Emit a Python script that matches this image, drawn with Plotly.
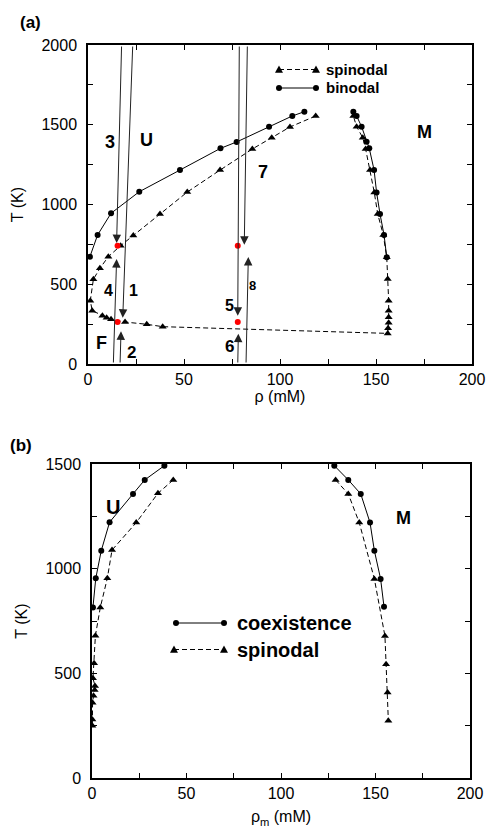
import plotly.graph_objects as go

# ---------------- Panel (a) data ----------------
spin_a_rho = [118.6, 105.2, 95.7, 85.6, 68.8, 51.7, 37.5, 23.6, 17.0, 10.6, 6.2, 2.8, 1.2, 2.2, 7.5, 9.7, 12.0, 19.3, 30.6, 38.9,
              156.1, 156.3, 156.6, 156.6, 156.6, 156.6, 156.1, 155.6, 153.8, 150.9, 149.1, 146.9, 144.6, 143.1, 139.9, 138.2]
spin_a_T = [1555, 1486, 1419, 1348, 1216, 1078, 940, 805, 742, 673, 600, 531, 397, 334, 303, 290, 280, 263, 249, 234,
            192, 224, 259, 293, 334, 397, 533, 669, 809, 940, 1076, 1216, 1348, 1419, 1488, 1555]

bino_a_left_rho = [1.0, 5.0, 12.0, 26.7, 47.9, 69.0, 77.4, 94.3, 106.4, 112.7]
bino_a_left_T = [673, 809, 945, 1080, 1216, 1352, 1392, 1488, 1555, 1582]
bino_a_right_rho = [138.2, 139.9, 142.5, 145.1, 146.5, 149.0, 150.3, 152.1, 154.2, 155.6]
bino_a_right_T = [1582, 1555, 1488, 1394, 1352, 1216, 1076, 940, 809, 669]

red_rho = [15.4, 15.4, 78.0, 78.0]
red_T = [742, 263, 742, 263]

# arrows: tail and tip positions in data units
arrow_tail_rho = [17.5, 23.3, 13.2, 16.7, 78.8, 83.0, 78.0, 82.3]
arrow_tail_T = [2000, 2000, 0, 0, 2000, 2000, 0, 0]
arrow_tip_rho = [14.9, 18.1, 14.9, 17.2, 78.0, 81.4, 78.3, 83.5]
arrow_tip_T = [758, 290, 658, 205, 303, 748, 190, 671]

# ---------------- Panel (b) data ----------------
coex_b_left_rho = [38.3, 27.9, 21.7, 9.3, 4.9, 2.0, 0.5]
coex_b_left_T = [1492, 1424, 1357, 1222, 1086, 954, 815]
coex_b_right_rho = [128.2, 135.6, 142.2, 147.1, 149.4, 152.7, 154.5]
coex_b_right_T = [1492, 1424, 1357, 1220, 1086, 951, 818]

spin_b_left_rho = [43.0, 34.9, 23.4, 10.6, 8.1, 4.4, 1.8, 1.1, 0.5, 1.6, 1.4, 0.8, 0.3, 0.2, 0.2]
spin_b_left_T = [1424, 1360, 1220, 1089, 954, 815, 680, 548, 476, 440, 420, 393, 360, 280, 250]
spin_b_right_rho = [128.9, 135.6, 141.4, 149.4, 155.0, 155.6, 156.4, 156.8]
spin_b_right_T = [1424, 1357, 1220, 951, 678, 543, 408, 274]

# ---------------- ticks ----------------
x_tickvals = [0, 50, 100, 150, 200]
x_ticktext = ["0", "50", "100", "150", "200"]
ya_tickvals = [0, 500, 1000, 1500, 2000]
ya_ticktext = ["0", "500", "1000", "1500", "2000"]
yb_tickvals = [0, 500, 1000, 1500]
yb_ticktext = ["0", "500", "1000", "1500"]

legend_a_names = ["spinodal", "binodal"]
legend_b_names = ["coexistence", "spinodal"]

FONT = "Liberation Sans, Arial, sans-serif"
W, H = 488, 832


def px2paper_x(p):
    return p / W


def px2paper_y(p):
    return 1 - p / H


fig = go.Figure()

fig.add_trace(go.Scatter(
    x=spin_a_rho, y=spin_a_T, mode="lines+markers", name=legend_a_names[0],
    line=dict(color="black", width=1, dash="5px,3px"),
    marker=dict(symbol="triangle-up", size=7, color="black"),
    xaxis="x", yaxis="y", showlegend=False))
fig.add_trace(go.Scatter(
    x=bino_a_left_rho + [None] + bino_a_right_rho,
    y=bino_a_left_T + [None] + bino_a_right_T, mode="lines+markers", name=legend_a_names[1],
    line=dict(color="black", width=1),
    marker=dict(symbol="circle", size=6, color="black"),
    xaxis="x", yaxis="y", showlegend=False, connectgaps=False))
fig.add_trace(go.Scatter(
    x=red_rho, y=red_T, mode="markers", showlegend=False,
    marker=dict(symbol="circle", size=6, color="red"),
    xaxis="x", yaxis="y"))

fig.add_trace(go.Scatter(
    x=coex_b_left_rho + [None] + coex_b_right_rho,
    y=coex_b_left_T + [None] + coex_b_right_T, mode="lines+markers", name=legend_b_names[0],
    line=dict(color="black", width=1),
    marker=dict(symbol="circle", size=6, color="black"),
    xaxis="x2", yaxis="y2", showlegend=False, connectgaps=False))
fig.add_trace(go.Scatter(
    x=spin_b_left_rho + [None] + spin_b_right_rho,
    y=spin_b_left_T + [None] + spin_b_right_T, mode="lines+markers", name=legend_b_names[1],
    line=dict(color="black", width=1, dash="5px,3px"),
    marker=dict(symbol="triangle-up", size=7, color="black"),
    xaxis="x2", yaxis="y2", showlegend=False, connectgaps=False))

annotations = []
for tr, tT, pr, pT in zip(arrow_tail_rho, arrow_tail_T, arrow_tip_rho, arrow_tip_T):
    annotations.append(dict(x=pr, y=pT, ax=tr, ay=tT, xref="x", yref="y", axref="x", ayref="y",
                            text="", showarrow=True, arrowhead=2, arrowsize=1.7, arrowwidth=1,
                            arrowcolor="#222"))

labels_a = [("3", 11.5, 1394, 18), ("U", 30.5, 1404, 18), ("M", 175, 1457, 18), ("7", 91, 1205, 18),
            ("F", 6.8, 130, 18), ("1", 23.5, 460, 16), ("4", 10.5, 460, 16), ("2", 22.5, 75, 17),
            ("5", 73.5, 365, 16), ("6", 73.5, 110, 17), ("8", 85.5, 490, 13)]
for t, xx, yy, s in labels_a:
    annotations.append(dict(x=xx, y=yy, xref="x", yref="y", text="<b>%s</b>" % t, showarrow=False,
                            font=dict(family=FONT, size=s, color="black")))

labels_b = [("U", 11.3, 1296, 20), ("M", 164.7, 1241, 18)]
for t, xx, yy, s in labels_b:
    annotations.append(dict(x=xx, y=yy, xref="x2", yref="y2", text="<b>%s</b>" % t, showarrow=False,
                            font=dict(family=FONT, size=s, color="black")))

annotations.append(dict(x=px2paper_x(30), y=px2paper_y(22), xref="paper", yref="paper", text="<b>(a)</b>",
                        xanchor="center", yanchor="middle",
                        showarrow=False, font=dict(family=FONT, size=17, color="black")))
annotations.append(dict(x=px2paper_x(21), y=px2paper_y(445), xref="paper", yref="paper", text="<b>(b)</b>",
                        xanchor="center", yanchor="middle",
                        showarrow=False, font=dict(family=FONT, size=17, color="black")))

# ---- hand-drawn legends (sample line with a marker at each end) ----
shapes = []


def tri_path(cx, cy, r=4.0):
    return "M %f %f L %f %f L %f %f Z" % (
        px2paper_x(cx), px2paper_y(cy - r),
        px2paper_x(cx - r), px2paper_y(cy + r * 0.8),
        px2paper_x(cx + r), px2paper_y(cy + r * 0.8))


def circ(cx, cy, r=3.0):
    return dict(type="circle", xref="paper", yref="paper",
                x0=px2paper_x(cx - r), x1=px2paper_x(cx + r),
                y0=px2paper_y(cy + r), y1=px2paper_y(cy - r),
                fillcolor="black", line=dict(color="black", width=0))


def legend_entry(x0, x1, y, dashed, marker, text, tx, size):
    shapes.append(dict(type="line", xref="paper", yref="paper",
                       x0=px2paper_x(x0), x1=px2paper_x(x1), y0=px2paper_y(y), y1=px2paper_y(y),
                       line=dict(color="black", width=1, dash="5px,3px" if dashed else "solid")))
    for cx in (x0, x1):
        if marker == "tri":
            shapes.append(dict(type="path", xref="paper", yref="paper", path=tri_path(cx, y),
                               fillcolor="black", line=dict(color="black", width=0)))
        else:
            shapes.append(circ(cx, y))
    annotations.append(dict(x=px2paper_x(tx), y=px2paper_y(y), xref="paper", yref="paper",
                            text="<b>%s</b>" % text, xanchor="left", yanchor="middle", showarrow=False,
                            font=dict(family=FONT, size=size, color="black")))


legend_entry(279, 316, 69.5, True, "tri", legend_a_names[0], 324, 15)
legend_entry(279, 316, 88, False, "circ", legend_a_names[1], 324, 15)
legend_entry(176, 224, 623, False, "circ", legend_b_names[0], 235, 20)
legend_entry(174, 224, 649.5, True, "tri", legend_b_names[1], 235, 20)

axis_common = dict(showline=True, linecolor="black", linewidth=1.5, mirror="ticks", ticks="inside",
                   ticklen=5, tickwidth=1, tickcolor="black", showgrid=False, zeroline=False,
                   automargin=False,
                   tickfont=dict(family=FONT, size=16, color="black"), tickmode="array")
minor_x = dict(dtick=25, ticks="inside", ticklen=5, tickwidth=1, tickcolor="black", showgrid=False)
minor_y = dict(dtick=250, ticks="inside", ticklen=5, tickwidth=1, tickcolor="black", showgrid=False)

fig.update_layout(
    width=W, height=H, margin=dict(l=0, r=0, t=0, b=0),
    paper_bgcolor="white", plot_bgcolor="white",
    font=dict(family=FONT, color="black"),
    xaxis=dict(domain=[px2paper_x(88), px2paper_x(472)], range=[0, 200], anchor="y",
               tickvals=x_tickvals, ticktext=x_ticktext, minor=minor_x,
               title=dict(text="ρ (mM)", font=dict(family=FONT, size=16), standoff=4), **axis_common),
    yaxis=dict(domain=[px2paper_y(364), px2paper_y(45)], range=[0, 2000], anchor="x",
               tickvals=ya_tickvals, ticktext=ya_ticktext, ticklabelstandoff=6, minor=minor_y,
               title=dict(text="T (K)", font=dict(family=FONT, size=16), standoff=14), **axis_common),
    xaxis2=dict(domain=[px2paper_x(92), px2paper_x(470)], range=[0, 200], anchor="y2",
                tickvals=x_tickvals, ticktext=x_ticktext, minor=minor_x,
                title=dict(text="ρ<sub>m</sub> (mM)", font=dict(family=FONT, size=16), standoff=10), **axis_common),
    yaxis2=dict(domain=[px2paper_y(778), px2paper_y(464)], range=[0, 1500], anchor="x2",
                tickvals=yb_tickvals, ticktext=yb_ticktext, ticklabelstandoff=6, minor=minor_y,
                title=dict(text="T (K)", font=dict(family=FONT, size=16), standoff=14), **axis_common),
    annotations=annotations,
    shapes=shapes,
    showlegend=False,
)

fig.write_html("out.html", config={"displayModeBar": False},
               post_script="document.body.style.margin='0';document.body.style.overflow='hidden';")
